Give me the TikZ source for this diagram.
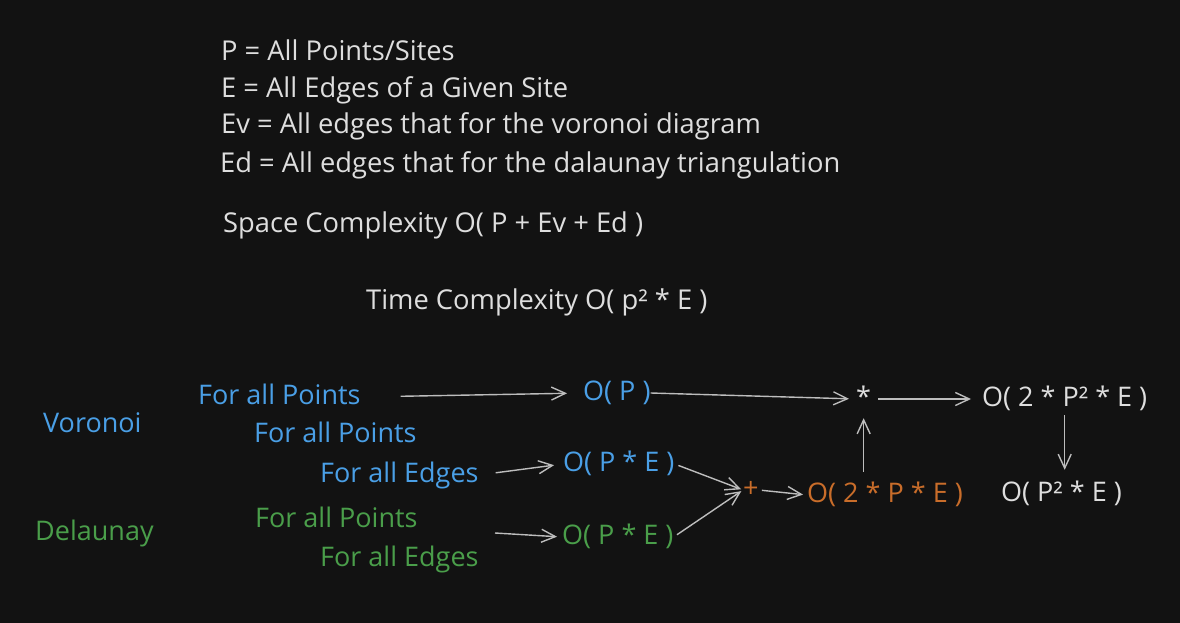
\documentclass[tikz,border=0pt]{standalone}
\usepackage{fontspec}
\setmainfont{Open Sans}
\usepackage{tikz}
\usetikzlibrary{arrows.meta}
\definecolor{canvas}{HTML}{121212}
\definecolor{ink}{HTML}{DEDEDE}
\definecolor{voro}{HTML}{4A9FE6}
\definecolor{dela}{HTML}{4A9E4A}
\definecolor{merge}{HTML}{C96D2A}
\definecolor{wire}{HTML}{BDBDBD}

\begin{document}
\begin{tikzpicture}[
  x=1pt, y=-1pt,
  every node/.style={font=\fontsize{27}{32}\selectfont, inner sep=0pt, anchor=base west,
    text height=20pt, text depth=6pt, text=ink},
  note/.style={font=\fontsize{27.3}{32}\selectfont},
  vterm/.style={text=voro},
  dterm/.style={text=dela},
  mterm/.style={text=merge},
  arrow/.style={-{Straight Barb[length=14pt, width=13pt]}, line width=1.4pt, color=wire}
]
\fill[canvas] (0,0) rectangle (1180,623);
\useasboundingbox (0,0) rectangle (1180,623);

% Legend
\node[note] (defp)  at (221,61)  {P = All Points/Sites};
\node[note] (defe)  at (221,98)  {E = All Edges of a Given Site};
\node[note] (defev) at (221,134) {Ev = All edges that for the voronoi diagram};
\node[note] (defed) at (220,172) {Ed = All edges that for the dalaunay triangulation};
\node[note] (space) at (223,232) {Space Complexity O( P + Ev + Ed )};
\node[note] (time)  at (366,309) {Time Complexity O( p² * E )};

% Algorithms
\node[vterm] (voronoi)  at (43,432)  {Voronoi};
\node[dterm] (delaunay) at (35,540)  {Delaunay};

% Loops
\node[vterm] (vp1) at (198,404) {For all Points};
\node[vterm] (vp2) at (254,442) {For all Points};
\node[vterm] (ve)  at (320,482) {For all Edges};
\node[dterm] (dp)  at (255,527) {For all Points};
\node[dterm] (de)  at (320,566) {For all Edges};
\coordinate (din) at (495,533);

% Costs
\node[vterm] (op)  at (583,400) {O( P )};
\node[vterm] (ope) at (563,471) {O( P * E )};
\node[dterm] (dpe) at (562,544) {O( P * E )};
\node[mterm] (plus) at (743,497) {+};
\node[mterm] (sum)  at (807,502) {O( 2 * P * E )};
\node (star) at (856,406) {*};
\node (tot)  at (982,406) {O( 2 * P² * E )};
\node (res)  at (1001,501) {O( P² * E )};

% Arrows
\draw[arrow, shorten <=40pt, shorten >=16pt] (vp1.east) -- (op.west);
\draw[arrow, shorten >=7pt] (op.east) -- (star.west);
\draw[arrow, shorten <=7pt, shorten >=11pt] (star.east) -- (tot.west);
\draw[arrow, shorten <=3pt, shorten >=11pt] (tot.south) -- (tot.south |- res.north);
\draw[arrow, shorten <=17pt, shorten >=9pt] (ve.east) -- (ope.west);
\draw[arrow, shorten <=4pt, shorten >=2pt] (ope.east) -- (plus.west);
\draw[arrow, shorten <=4pt, shorten >=2pt] (dpe.east) -- (plus.west);
\draw[arrow, shorten >=5pt] (din) -- (dpe.west);
\draw[arrow, shorten <=3pt, shorten >=4pt] (plus.east) -- (sum.west);
\draw[arrow, shorten <=10pt, shorten >=6pt] (sum.north -| star.south) -- (star.south);

\end{tikzpicture}
\end{document}
